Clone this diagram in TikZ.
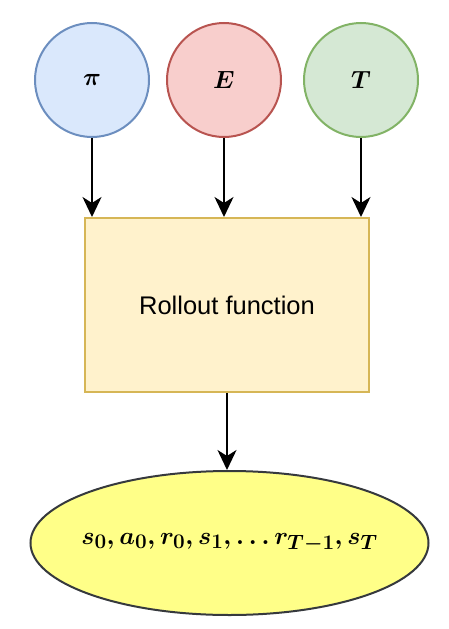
\documentclass[tikz,border=0pt]{standalone}
\usepackage{fontspec}
\setsansfont{Liberation Sans}
\usepackage{tikz}
\usetikzlibrary{arrows.meta,shapes.geometric,positioning}
\definecolor{pi_fill}{HTML}{DAE8FC}
\definecolor{pi_line}{HTML}{6C8EBF}
\definecolor{env_fill}{HTML}{F8CECC}
\definecolor{env_line}{HTML}{B85450}
\definecolor{hor_fill}{HTML}{D5E8D4}
\definecolor{hor_line}{HTML}{82B366}
\definecolor{box_fill}{HTML}{FFF2CC}
\definecolor{box_line}{HTML}{D6B656}
\definecolor{traj_fill}{HTML}{FFFF88}
\definecolor{traj_line}{HTML}{36393D}

\begin{document}
\begin{tikzpicture}[x=1pt, y=-1pt, line width=2pt,
    inp/.style={circle, minimum size=114pt, inner sep=0pt, font=\fontsize{28}{32}\selectfont\boldmath},
    flow/.style={-{Stealth[length=20pt, width=19pt, inset=6pt]}, black}]
        \useasboundingbox (0,0) rectangle (449,629);
        \node[inp, fill=pi_fill, draw=pi_line] (pi) at (92,80) {$\pi$};
        \node[inp, fill=env_fill, draw=env_line] (env) at (224,80) {$E$};
        \node[inp, fill=hor_fill, draw=hor_line] (hor) at (361,80) {$T$};
        \node[draw=box_line, fill=box_fill, minimum width=284pt, minimum height=174pt,
          font=\sffamily\fontsize{25.5}{30}\selectfont] (rollout) at (227,305) {Rollout function};
        \node[ellipse, draw=traj_line, fill=traj_fill, minimum width=398pt, minimum height=144pt,
          inner xsep=-25pt, inner ysep=0pt, font=\fontsize{28.5}{32}\selectfont\boldmath] (traj) at (229.5,543)
          {$s_0, a_0, r_0, s_1, \ldots r_{T-1}, s_T$};
        \draw[flow] (pi) -- (pi |- rollout.north);
        \draw[flow] (env) -- (env |- rollout.north);
        \draw[flow] (hor) -- (hor |- rollout.north);
        \draw[flow] (rollout) -- (rollout |- traj.north);
      \end{tikzpicture}
\end{document}
